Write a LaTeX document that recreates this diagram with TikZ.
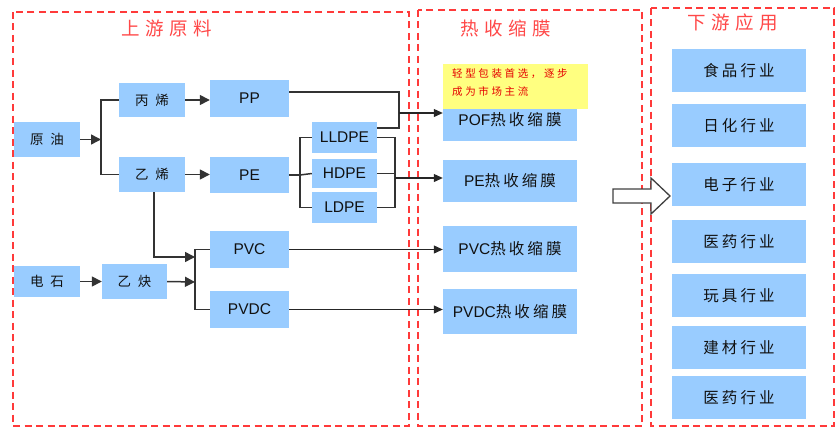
\documentclass[tikz,border=0pt]{standalone}
\usepackage{fontspec}
\setmainfont{Liberation Sans}
\newfontfamily\cjk{Noto Sans CJK SC}
\newfontfamily\cjkl[LetterSpace=50]{Noto Sans CJK SC}
\newfontfamily\cjkm[LetterSpace=20]{Noto Sans CJK SC}
\newfontfamily\cjkt[LetterSpace=30]{Noto Sans CJK SC}
\newfontfamily\cjkn[LetterSpace=25]{Noto Sans CJK SC}
\usetikzlibrary{arrows.meta}
\definecolor{boxblue}{HTML}{99CCFF}
\definecolor{framered}{HTML}{FF3A3A}
\definecolor{titlered}{HTML}{FF4848}
\definecolor{noteyellow}{HTML}{FFFF80}
\definecolor{txt}{HTML}{111111}
\begin{document}
\begin{tikzpicture}[x=1pt,y=-1pt,
  frame/.style={draw=framered,line width=1.6pt,dash pattern=on 7pt off 4.5pt},
  title/.style={text=titlered,font=\cjkt\fontsize{18.5}{18.5}\selectfont,inner sep=0pt},
  box/.style={fill=boxblue,inner sep=0pt,text=txt,font=\fontsize{15.5}{15.5}\selectfont},
  lbox/.style={box,minimum width=66pt,font=\cjkl\fontsize{13.5}{13.5}\selectfont},
  cbox/.style={box,minimum width=79pt,minimum height=37pt},
  mbox/.style={box,minimum width=134pt},
  rbox/.style={box,minimum width=134pt,minimum height=43pt,font=\cjkm\fontsize{15.5}{15.5}\selectfont},
  conn/.style={draw=black!80,line width=1.5pt},
  arr/.style={conn,-{Triangle[length=10pt,width=10pt]}},
  thin arr/.style={draw=black!85,line width=1.1pt,-{Triangle[length=9pt,width=8pt]}}]
\useasboundingbox (0,0) rectangle (837,428);

% frames
\draw[frame] (13,12) rectangle (409,426);
\draw[frame] (418,10) rectangle (642,426);
\draw[frame] (651,8) rectangle (834,426);

% titles
\node[title] (t1) at (167,28) {上游原料};
\node[title] (t2) at (506,28) {热收缩膜};
\node[title] (t3) at (733,22) {下游应用};

% left boxes
\node[lbox,minimum height=35pt] (oil) at (47,139.5) {原油};
\node[lbox,minimum height=34pt] (prop) at (152,100) {丙烯};
\node[lbox,minimum height=35pt] (eth) at (152,174.5) {乙烯};
\node[lbox,minimum height=31pt] (calc) at (47,281.5) {电石};
\node[lbox,minimum width=65pt,minimum height=35pt] (acet) at (134.5,281.5) {乙炔};

\node[cbox] (pp) at (249.5,98.5) {PP};
\node[cbox,minimum height=36pt] (pe) at (249.5,175) {PE};
\node[cbox] (pvc) at (249.5,249.5) {PVC};
\node[cbox] (pvdc) at (249.5,309.5) {PVDC};

\node[box,minimum width=65pt,minimum height=31pt] (lldpe) at (344.5,137.5) {LLDPE};
\node[box,minimum width=65pt,minimum height=29pt] (hdpe) at (344.5,173.5) {HDPE};
\node[box,minimum width=65pt,minimum height=31pt] (ldpe) at (344.5,207.5) {LDPE};

% middle boxes
\node[mbox,minimum height=43pt] (pof) at (510,119.5) {POF{\cjkm 热收缩膜}};
\node[fill=noteyellow,minimum width=145pt,minimum height=45pt,inner sep=0pt] (note) at (515.5,86.5) {};
\node[text=red!90!black,font=\cjkn\fontsize{10.5}{18}\selectfont,align=left,inner sep=0pt,anchor=north west] (notetext) at (452,68.5) {轻型包装首选，逐步\\成为市场主流};
\node[mbox,minimum height=42pt] (pef) at (510,181) {PE{\cjkm 热收缩膜}};
\node[mbox,minimum height=46pt] (pvcf) at (510,249) {PVC{\cjkm 热收缩膜}};
\node[mbox,minimum height=45pt] (pvdcf) at (510,311.5) {PVDC{\cjkm 热收缩膜}};

% right boxes
\node[rbox] (r1) at (739,70.5) {食品行业};
\node[rbox] (r2) at (739,125.5) {日化行业};
\node[rbox] (r3) at (739,184.5) {电子行业};
\node[rbox] (r4) at (739,241.5) {医药行业};
\node[rbox] (r5) at (739,295.5) {玩具行业};
\node[rbox] (r6) at (739,347.5) {建材行业};
\node[rbox] (r7) at (739,397.5) {医药行业};

% hollow arrow
\draw[fill=white,draw=black!75,line width=1.3pt,line join=miter]
  (613,189) -- (651,189) -- (651,178) -- (670,196) -- (651,214) -- (651,203) -- (613,203) -- cycle;

% coordinates
\coordinate (j1) at (101,139.5);
\coordinate (j2) at (300,175);
\coordinate (j3) at (399,113);
\coordinate (j3b) at (399,92);
\coordinate (l1) at (377,128);
\coordinate (k) at (395,178);
\coordinate (j4) at (195,257);
\coordinate (j5) at (195,282);

% connectors
\draw[arr] (oil.east) -- (j1);
\draw[conn] (prop.west) -| (j1) |- (eth.west);
\draw[arr] (prop.east) -- (prop.east -| pp.west);
\draw[arr] (eth.east) -- (eth.east -| pe.west);
\draw[conn] (pe.east) -- (j2);
\draw[conn] (lldpe.west) -| (j2) |- (ldpe.west);
\draw[conn] (j2) -- (hdpe.west);

\draw[conn,line width=1.3pt] (pp.east |- j3b) -- (j3b) -- (j3 |- l1) -- (l1);
\draw[thin arr] (j3) -- (j3 -| pof.west);
\draw[conn] (lldpe.east) -| (k) |- (ldpe.east);
\draw[conn] (hdpe.east) -- (hdpe.east -| k);
\draw[thin arr] (k) -- (k -| pef.west);

\draw[arr] ([xshift=2pt]eth.south) |- (j4);
\draw[conn] (pvc.west) -| (j5) |- (pvdc.west);
\draw[arr] (calc.east) -- (acet.west);
\draw[arr] (acet.east) -- (j5);
\draw[thin arr] (pvc.east) -- (pvc.east -| pvcf.west);
\draw[thin arr] (pvdc.east) -- (pvdc.east -| pvdcf.west);
\end{tikzpicture}
\end{document}
